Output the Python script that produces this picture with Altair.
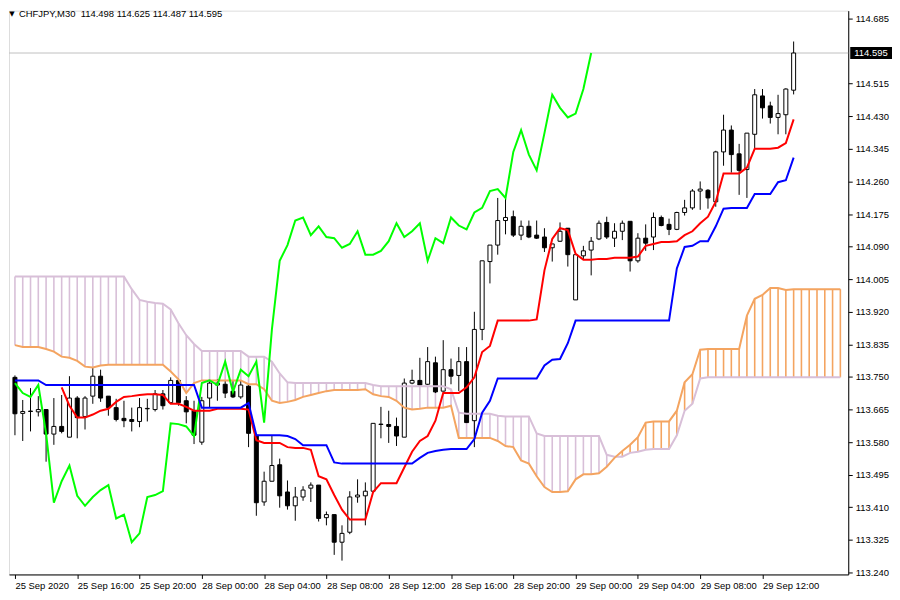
import altair as alt
import pandas as pd

SYMBOL = "CHFJPY,M30"

OPEN = [113.749, 113.655, 113.661, 113.659, 113.665, 113.601, 113.621, 113.593, 113.695, 113.647,
        113.700, 113.752, 113.700, 113.670, 113.642, 113.639, 113.634, 113.667, 113.665, 113.706,
        113.683, 113.741, 113.688, 113.662, 113.580, 113.695, 113.729, 113.731, 113.713, 113.698,
        113.726, 113.598, 113.424, 113.478, 113.521, 113.450, 113.414, 113.437, 113.460, 113.468,
        113.383, 113.391, 113.319, 113.345, 113.437, 113.440, 113.452, 113.626, 113.626, 113.621,
        113.593, 113.734, 113.741, 113.731, 113.787, 113.713, 113.769, 113.754, 113.790, 113.636,
        113.874, 114.051, 114.094, 114.158, 114.168, 114.120, 114.143, 114.120, 114.115, 114.087,
        114.104, 114.138, 113.951, 114.066, 114.081, 114.110, 114.153, 114.112, 114.130, 114.156,
        114.053, 114.112, 114.115, 114.166, 114.148, 114.135, 114.179, 114.191, 114.235, 114.237,
        114.207, 114.337, 114.394, 114.332, 114.291, 114.383, 114.483, 114.457, 114.427, 114.434,
        114.498]
HIGH = [113.754, 113.690, 113.721, 113.700, 113.665, 113.695, 113.703, 113.752, 113.700, 113.700,
        113.775, 113.769, 113.700, 113.693, 113.688, 113.670, 113.695, 113.693, 113.716, 113.716,
        113.749, 113.746, 113.700, 113.688, 113.698, 113.741, 113.744, 113.741, 113.741, 113.741,
        113.731, 113.601, 113.503, 113.596, 113.537, 113.480, 113.463, 113.465, 113.475, 113.468,
        113.399, 113.391, 113.363, 113.452, 113.483, 113.475, 113.629, 113.672, 113.662, 113.644,
        113.746, 113.769, 113.800, 113.828, 113.803, 113.846, 113.798, 113.828, 113.828, 113.920,
        114.053, 114.094, 114.217, 114.225, 114.184, 114.158, 114.158, 114.158, 114.138, 114.097,
        114.153, 114.138, 114.069, 114.092, 114.115, 114.158, 114.168, 114.151, 114.158, 114.156,
        114.125, 114.148, 114.179, 114.171, 114.163, 114.181, 114.212, 114.240, 114.260, 114.240,
        114.340, 114.434, 114.406, 114.358, 114.386, 114.501, 114.501, 114.468, 114.486, 114.503,
        114.625]
LOW = [113.598, 113.583, 113.608, 113.647, 113.529, 113.573, 113.603, 113.593, 113.590, 113.613,
       113.680, 113.685, 113.649, 113.634, 113.619, 113.608, 113.619, 113.634, 113.660, 113.665,
       113.680, 113.675, 113.629, 113.575, 113.573, 113.670, 113.688, 113.695, 113.695, 113.693,
       113.567, 113.388, 113.414, 113.478, 113.409, 113.404, 113.375, 113.427, 113.424, 113.373,
       113.363, 113.286, 113.271, 113.340, 113.422, 113.363, 113.450, 113.590, 113.578, 113.570,
       113.593, 113.731, 113.729, 113.729, 113.708, 113.713, 113.731, 113.713, 113.631, 113.567,
       113.846, 113.994, 114.069, 114.122, 114.115, 114.107, 114.112, 114.110, 114.076, 114.051,
       114.102, 114.038, 113.951, 114.056, 114.015, 114.107, 114.110, 114.089, 114.107, 114.025,
       114.048, 114.079, 114.081, 114.143, 114.120, 114.133, 114.171, 114.186, 114.186, 114.189,
       114.194, 114.301, 114.283, 114.225, 114.217, 114.347, 114.424, 114.411, 114.383, 114.383,
       114.487]
CLOSE = [113.654, 113.660, 113.660, 113.665, 113.601, 113.621, 113.608, 113.695, 113.644, 113.695,
         113.752, 113.695, 113.670, 113.639, 113.636, 113.634, 113.670, 113.668, 113.706, 113.675,
         113.741, 113.683, 113.659, 113.598, 113.688, 113.734, 113.734, 113.708, 113.698, 113.729,
         113.603, 113.422, 113.478, 113.519, 113.440, 113.414, 113.437, 113.455, 113.468, 113.381,
         113.391, 113.319, 113.342, 113.437, 113.442, 113.452, 113.629, 113.627, 113.621, 113.596,
         113.734, 113.741, 113.729, 113.790, 113.711, 113.769, 113.752, 113.790, 113.631, 113.874,
         114.053, 114.094, 114.158, 114.166, 114.120, 114.143, 114.115, 114.112, 114.087, 114.097,
         114.130, 114.069, 114.069, 114.079, 114.104, 114.151, 114.115, 114.130, 114.151, 114.053,
         114.112, 114.099, 114.166, 114.145, 114.135, 114.179, 114.191, 114.235, 114.240, 114.217,
         114.337, 114.394, 114.330, 114.289, 114.386, 114.486, 114.452, 114.427, 114.437, 114.501,
         114.595]

TENKAN_START = 6
TENKAN = [113.723, 113.675, 113.644, 113.644,
          113.652, 113.662, 113.667, 113.685, 113.698, 113.700, 113.703, 113.705, 113.705, 113.703,
          113.680, 113.680, 113.672, 113.662, 113.662, 113.662, 113.667, 113.667, 113.667, 113.667,
          113.665, 113.585, 113.578, 113.578, 113.578, 113.567, 113.565, 113.565, 113.560, 113.491,
          113.483, 113.442, 113.404, 113.378, 113.378, 113.378, 113.450, 113.473, 113.473, 113.473,
          113.514, 113.555, 113.583, 113.596, 113.636, 113.708, 113.708, 113.708, 113.723, 113.749,
          113.815, 113.831, 113.897, 113.897, 113.897, 113.897, 113.897, 113.900, 114.028, 114.110,
          114.138, 114.133, 114.071, 114.056, 114.056, 114.058, 114.058, 114.061, 114.061, 114.061,
          114.064, 114.092, 114.097, 114.102, 114.102, 114.104, 114.120, 114.130, 114.151, 114.168,
          114.207, 114.281, 114.281, 114.281, 114.296, 114.345, 114.345, 114.345, 114.348, 114.360,
          114.422]
KIJUN = [113.741, 113.741, 113.741, 113.741, 113.729, 113.729, 113.729, 113.729, 113.729, 113.729,
         113.729, 113.729, 113.729, 113.729, 113.729, 113.729, 113.729, 113.729, 113.729, 113.729,
         113.729, 113.729, 113.729, 113.729, 113.670, 113.670, 113.670, 113.670, 113.670, 113.670,
         113.682, 113.598, 113.598, 113.598, 113.598, 113.596, 113.588, 113.572, 113.572, 113.572,
         113.572, 113.527, 113.524, 113.524, 113.524, 113.524, 113.524, 113.524, 113.524, 113.524,
         113.524, 113.524, 113.539, 113.552, 113.557, 113.560, 113.562, 113.562, 113.562, 113.588,
         113.657, 113.688, 113.746, 113.746, 113.746, 113.746, 113.746, 113.746, 113.780, 113.795,
         113.797, 113.838, 113.897, 113.897, 113.897, 113.897, 113.897, 113.897, 113.897, 113.897,
         113.897, 113.897, 113.897, 113.897, 113.897, 114.033, 114.089, 114.092, 114.104, 114.104,
         114.143, 114.189, 114.191, 114.191, 114.191, 114.227, 114.227, 114.227, 114.258, 114.263,
         114.322]
SPAN_A = [113.833, 113.828, 113.828, 113.828, 113.823, 113.816, 113.803, 113.800, 113.792, 113.777,
          113.775, 113.780, 113.782, 113.782, 113.782, 113.782, 113.782, 113.782, 113.782, 113.782,
          113.764, 113.744, 113.708, 113.734, 113.741, 113.741, 113.741, 113.741, 113.741, 113.741,
          113.731, 113.731, 113.718, 113.688, 113.682, 113.685, 113.690, 113.698, 113.703, 113.708,
          113.713, 113.716, 113.716, 113.716, 113.716, 113.718, 113.705, 113.700, 113.698, 113.688,
          113.670, 113.665, 113.667, 113.670, 113.670, 113.670, 113.675, 113.591, 113.591, 113.591,
          113.591, 113.591, 113.583, 113.570, 113.567, 113.532, 113.524, 113.491, 113.463, 113.450,
          113.450, 113.452, 113.483, 113.496, 113.496, 113.499, 113.516, 113.539, 113.557, 113.573,
          113.593, 113.631, 113.634, 113.634, 113.634, 113.662, 113.736, 113.757, 113.821, 113.823,
          113.823, 113.823, 113.823, 113.823, 113.910, 113.954, 113.964, 113.982, 113.982, 113.977,
          113.979, 113.979, 113.979, 113.979, 113.979, 113.979, 113.979]
SPAN_B = [114.012, 114.012, 114.012, 114.012, 114.012, 114.012, 114.012, 114.012, 114.012, 114.012,
          114.012, 114.012, 114.012, 114.012, 114.012, 113.979, 113.951, 113.946, 113.943, 113.941,
          113.926, 113.890, 113.859, 113.836, 113.818, 113.818, 113.818, 113.818, 113.818, 113.818,
          113.803, 113.803, 113.803, 113.790, 113.759, 113.736, 113.734, 113.734, 113.734, 113.734,
          113.734, 113.734, 113.734, 113.734, 113.734, 113.734, 113.729, 113.726, 113.726, 113.726,
          113.726, 113.726, 113.726, 113.726, 113.726, 113.726, 113.718, 113.657, 113.654, 113.654,
          113.654, 113.654, 113.649, 113.647, 113.647, 113.647, 113.647, 113.603, 113.596, 113.596,
          113.596, 113.596, 113.596, 113.596, 113.596, 113.596, 113.547, 113.542, 113.542, 113.552,
          113.555, 113.560, 113.562, 113.562, 113.562, 113.598, 113.662, 113.680, 113.746, 113.749,
          113.749, 113.749, 113.749, 113.749, 113.749, 113.749, 113.749, 113.749, 113.749, 113.749,
          113.749, 113.749, 113.749, 113.749, 113.749, 113.749, 113.749]
CHIKOU_SHIFT = 26

X_TICK_BARS = [0, 8, 16, 24, 32, 40, 48, 56, 64, 72, 80, 88, 96]
X_TICK_LABELS = ["25 Sep 2020", "25 Sep 16:00", "25 Sep 20:00", "28 Sep 00:00", "28 Sep 04:00",
                 "28 Sep 08:00", "28 Sep 12:00", "28 Sep 16:00", "28 Sep 20:00", "29 Sep 00:00",
                 "29 Sep 04:00", "29 Sep 08:00", "29 Sep 12:00"]
Y_TICKS = [114.685, 114.515, 114.430, 114.345, 114.260, 114.175, 114.090, 114.005, 113.920,
           113.835, 113.750, 113.665, 113.580, 113.495, 113.410, 113.325, 113.240]

X_DOMAIN = [-0.125, 106.375]
Y_DOMAIN = [113.2349, 114.7055]
W, H = 844, 567
FONT = "Liberation Sans"

n = len(CLOSE)
candles = pd.DataFrame({"i": list(range(n)), "o": OPEN, "h": HIGH, "l": LOW, "c": CLOSE})
tenkan = pd.DataFrame({"i": list(range(TENKAN_START, TENKAN_START + len(TENKAN))), "v": TENKAN})
kijun = pd.DataFrame({"i": list(range(len(KIJUN))), "v": KIJUN})
cloud = pd.DataFrame({"i": list(range(len(SPAN_A))), "a": SPAN_A, "b": SPAN_B})
chikou = pd.DataFrame({"i": list(range(n - CHIKOU_SHIFT)), "v": CLOSE[CHIKOU_SHIFT:]})
last = pd.DataFrame({"p": [CLOSE[-1]], "t": [f"{CLOSE[-1]:.3f}"]})
title = pd.DataFrame({"t": [f"{SYMBOL}\u00a0 {OPEN[-1]:.3f} {HIGH[-1]:.3f} {LOW[-1]:.3f} {CLOSE[-1]:.3f}"]})

label_expr = ("[" + ",".join(f"'{s}'" for s in X_TICK_LABELS) + "][indexof(["
              + ",".join(str(b) for b in X_TICK_BARS) + "], datum.value)]")

x_axis = alt.Axis(orient="bottom", values=X_TICK_BARS, labelExpr=label_expr, labelAlign="left",
                  title=None, grid=False, tickSize=4, labelPadding=2, labelFontSize=9.5,
                  labelFont=FONT, labelColor="black", tickColor="black", domainColor="black",
                  labelOverlap=False, labelFlush=False)
y_axis = alt.Axis(orient="right", values=Y_TICKS, format=".3f", title=None, grid=False,
                  tickSize=4, labelPadding=3, labelFontSize=9.5, labelFont=FONT,
                  labelColor="black", tickColor="black", domainColor="black")
x_scale = alt.Scale(domain=X_DOMAIN, nice=False, zero=False)
y_scale = alt.Scale(domain=Y_DOMAIN, nice=False, zero=False)


def X(f="i"):
    return alt.X(f"{f}:Q", scale=x_scale, axis=x_axis)


def Y(f):
    return alt.Y(f"{f}:Q", scale=y_scale, axis=y_axis)


price_line = alt.Chart(last).mark_rule(color="#C0C0C0", strokeWidth=1).encode(
    y=Y("p"), x=alt.value(0), x2=alt.value(W))

hatch = alt.Chart(cloud).mark_rule(strokeWidth=1.6).encode(
    x=X(), y=Y("a"), y2="b:Q",
    color=alt.condition("datum.a >= datum.b", alt.value("#F4A460"), alt.value("#D8BFD8")))

wicks = alt.Chart(candles).mark_rule(color="black", strokeWidth=1).encode(
    x=X(), y=Y("l"), y2="h:Q")
bodies = alt.Chart(candles).mark_bar(size=4, stroke="black", strokeWidth=1).encode(
    x=X(), y=Y("o"), y2="c:Q",
    fill=alt.condition("datum.c >= datum.o", alt.value("white"), alt.value("black")))

span_b_line = alt.Chart(cloud).mark_line(color="#D8BFD8", strokeWidth=2).encode(x=X(), y=Y("b"))
span_a_line = alt.Chart(cloud).mark_line(color="#F4A460", strokeWidth=2).encode(x=X(), y=Y("a"))
chikou_line = alt.Chart(chikou).mark_line(color="#00FF00", strokeWidth=2).encode(x=X(), y=Y("v"))
tenkan_line = alt.Chart(tenkan).mark_line(color="#FF0000", strokeWidth=2).encode(x=X(), y=Y("v"))
kijun_line = alt.Chart(kijun).mark_line(color="#0000FF", strokeWidth=2).encode(x=X(), y=Y("v"))

price_box = alt.Chart(last).mark_rect(color="black", yOffset=-6, y2Offset=6).encode(
    y=Y("p"), y2="p:Q", x=alt.value(W + 2), x2=alt.value(W + 44))
price_text = alt.Chart(last).mark_text(color="white", align="left", baseline="middle",
                                       font=FONT, fontSize=9.5).encode(
    y=Y("p"), x=alt.value(W + 6), text="t:N")

title_tri = alt.Chart(title).mark_text(text="\u25bc", color="black", align="center",
                                       baseline="middle", font="DejaVu Sans", fontSize=7).encode(
    x=alt.value(3), y=alt.value(3))
title_txt = alt.Chart(title).mark_text(color="black", align="left", baseline="middle",
                                       font=FONT, fontSize=9.5).encode(
    x=alt.value(10), y=alt.value(3), text="t:N")

chart = alt.layer(
    price_line, hatch, wicks, bodies, span_b_line, span_a_line, chikou_line,
    tenkan_line, kijun_line, price_box, price_text, title_tri, title_txt
).properties(
    width=W, height=H,
    autosize=alt.AutoSizeParams(type="none"),
    padding={"left": 1, "top": 1, "right": 44, "bottom": 17},
).configure_view(
    stroke="black", strokeWidth=1, fill="white"
).configure(background="white")

chart.save("out.html", embed_options={"renderer": "svg", "actions": False})
